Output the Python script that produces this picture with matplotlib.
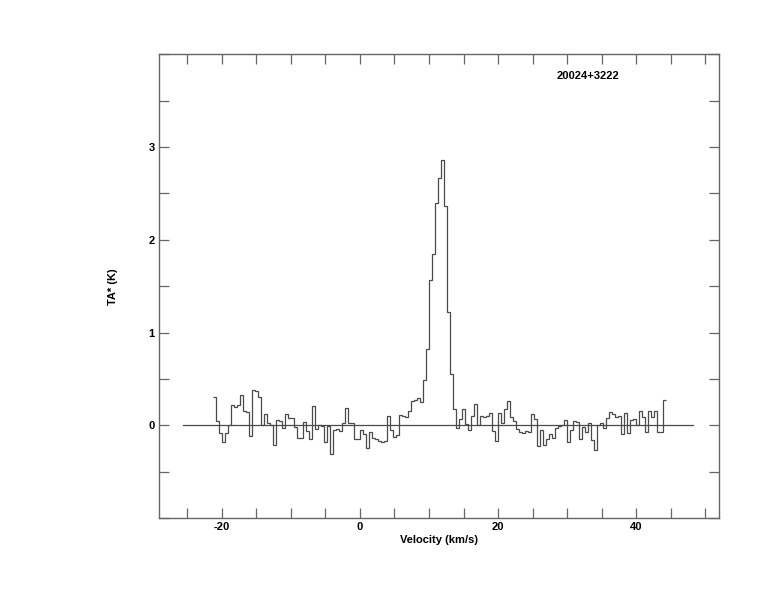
import numpy as np
import matplotlib
matplotlib.use("Agg")
import matplotlib.pyplot as plt
from matplotlib.ticker import MultipleLocator, FuncFormatter

# ---- data ----
source_name = "20024+3222"
x_label = "Velocity (km/s)"
y_label = "TA* (K)"

v_start = -21.25      # left edge of first channel (km/s)
chan_width = 0.4345   # km/s per channel

ta_values = [
    0.31, 0.05, -0.08, -0.18, -0.08, 0.01, 0.22, 0.20, 0.22, 0.33,
    0.16, 0.15, -0.11, 0.38, 0.37, 0.31, 0.01, 0.12, 0.03, 0.01,
    -0.21, 0.06, 0.05, -0.03, 0.12, 0.08, 0.08, -0.02, -0.13, -0.14,
    0.04, -0.06, -0.15, 0.21, -0.04, 0.00, -0.01, -0.18, -0.01, -0.31,
    -0.05, -0.04, -0.06, 0.03, 0.19, 0.03, 0.03, -0.15, -0.15, -0.05,
    -0.09, -0.24, -0.07, -0.14, -0.15, -0.17, -0.18, -0.17, 0.10, -0.05,
    -0.12, -0.10, 0.11, 0.10, 0.09, 0.16, 0.26, 0.27, 0.30, 0.25,
    0.49, 0.82, 1.57, 1.85, 2.40, 2.67, 2.86, 2.36, 1.22, 0.55,
    0.18, -0.03, 0.07, 0.18, 0.02, -0.05, 0.10, 0.23, 0.00, 0.10,
    0.09, 0.10, 0.14, -0.06, -0.17, 0.14, 0.03, 0.18, 0.26, 0.09,
    0.05, -0.04, -0.07, -0.08, -0.06, -0.07, 0.12, 0.07, -0.22, -0.05,
    -0.21, -0.15, -0.09, -0.13, -0.03, -0.01, 0.00, 0.06, -0.18, -0.05,
    0.05, 0.04, -0.15, -0.02, -0.07, 0.03, -0.16, -0.26, 0.01, 0.03,
    -0.03, 0.08, 0.15, 0.12, 0.09, 0.10, -0.09, 0.14, -0.08, 0.06,
    0.07, 0.01, 0.16, 0.09, -0.07, 0.16, 0.09, 0.16, -0.07, -0.07,
    0.28,
]

baseline_range = [-25.6, 48.2]
x_limits = [-29.1, 52.0]
y_limits = [-1.0, 4.0]

# ---- figure ----
plt.rcParams['font.family'] = ['Liberation Sans', 'DejaVu Sans']
fig = plt.figure(figsize=(7.74, 6.12), dpi=100)
ax = fig.add_axes([159 / 774, 1 - 518.3 / 612, 560 / 774, 464 / 612])

edges = v_start + chan_width * np.arange(len(ta_values) + 1)
line_col = '#4a4a4a'
ax.stairs(ta_values, edges, color=line_col, linewidth=0.9, baseline=None)
ax.plot(baseline_range, [0, 0], color=line_col, linewidth=0.9)

ax.set_xlim(*x_limits)
ax.set_ylim(*y_limits)

frame_col = '#666666'
for s in ax.spines.values():
    s.set_color(frame_col)
    s.set_linewidth(1.0)

ax.xaxis.set_major_locator(MultipleLocator(5))
ax.yaxis.set_major_locator(MultipleLocator(0.5))
ax.xaxis.set_major_formatter(FuncFormatter(
    lambda v, p: f"{int(round(v))}" if abs(v % 20) < 1e-6 or abs(v % 20 - 20) < 1e-6 else ""))
ax.yaxis.set_major_formatter(FuncFormatter(
    lambda v, p: f"{int(round(v))}" if abs(v - round(v)) < 1e-6 and 0 <= v <= 3 else ""))
ax.tick_params(axis='both', which='major', direction='in', length=7, width=0.9,
               color=frame_col, top=True, right=True, labelsize=8, pad=3)
for lab in ax.get_xticklabels() + ax.get_yticklabels():
    lab.set_fontweight('bold')

ax.set_xlabel(x_label, fontsize=8, fontweight='bold', labelpad=2)
ax.set_ylabel(y_label, fontsize=8, fontweight='bold', labelpad=22)
ax.text(0.766, 0.953, source_name, transform=ax.transAxes, ha='center', va='center',
        fontsize=8, fontweight='bold')

fig.savefig('out.png', dpi=100)
